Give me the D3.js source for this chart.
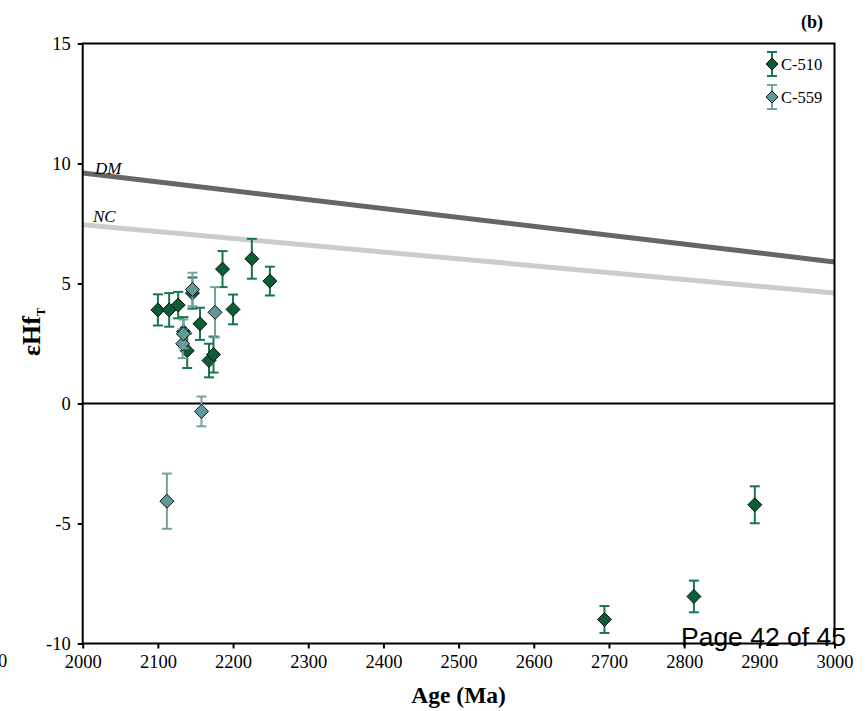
<!DOCTYPE html>
<html>
<head>
<meta charset="utf-8">
<script src="https://cdn.jsdelivr.net/npm/d3@7"></script>
<style>
  html, body { margin: 0; padding: 0; background: #fff; }
  svg { display: block; }
</style>
</head>
<body>
<svg id="chart" width="868" height="711"></svg>
<script>
// ---- data ----
const xTicks = [2000, 2100, 2200, 2300, 2400, 2500, 2600, 2700, 2800, 2900, 3000];
const yTicks = [-10, -5, 0, 5, 10, 15];

// C-510: age, eHf, error
const c510Age = [2100, 2115, 2127, 2146, 2156, 2186, 2225, 2249, 2200, 2134, 2139, 2168, 2174, 2694, 2813, 2894];
const c510Hf  = [3.9, 3.9, 4.1, 4.6, 3.32, 5.6, 6.03, 5.1, 3.92, 3.0, 2.2, 1.79, 2.04, -9.0, -8.04, -4.22];
const c510Err = [0.65, 0.7, 0.55, 0.65, 0.67, 0.75, 0.83, 0.6, 0.62, 0.6, 0.72, 0.7, 0.75, 0.56, 0.66, 0.77];

// C-559
const c559Age = [2146, 2133, 2134, 2176, 2158, 2112];
const c559Hf  = [4.75, 2.49, 2.9, 3.8, -0.33, -4.07];
const c559Err = [0.7, 0.6, 0.6, 1.05, 0.62, 1.15];

// reference lines: [age, eHf]
const dmLine = [[2000, 9.6], [3000, 5.9]];
const ncLine = [[2000, 7.45], [3000, 4.6]];

const seriesNames = ["C-510", "C-559"];
const seriesFill = ["#0b5e33", "#5f9999"];
const seriesBar  = ["#17774a", "#6fa3a3"];

const SERIF = '"Liberation Serif", "Times New Roman", serif';
const SANS = '"Liberation Sans", Arial, sans-serif';

// ---- layout ----
const svg = d3.select("#chart");
const L = 82.7, R = 834.5, T = 43.5, B = 643.5;
const x = d3.scaleLinear().domain([2000, 3000]).range([L, R]);
const y = d3.scaleLinear().domain([-10, 15]).range([B, T]);

// reference lines
const line = d3.line().x(d => x(d[0])).y(d => y(d[1]));
svg.append("clipPath").attr("id", "pc").append("rect")
  .attr("x", L).attr("y", T).attr("width", R - L).attr("height", B - T);
const g = svg.append("g").attr("clip-path", "url(#pc)");
g.append("path").datum(dmLine).attr("d", line).attr("fill", "none")
  .attr("stroke", "#666666").attr("stroke-width", 5);
g.append("path").datum(ncLine).attr("d", line).attr("fill", "none")
  .attr("stroke", "#cccccc").attr("stroke-width", 5);

svg.append("text").attr("x", 95).attr("y", 174)
  .style("font-family", SERIF).style("font-style", "italic").style("font-size", "17px").text("DM");
svg.append("text").attr("x", 93).attr("y", 222)
  .style("font-family", SERIF).style("font-style", "italic").style("font-size", "17px").text("NC");

// zero line
svg.append("line").attr("x1", L).attr("x2", R).attr("y1", y(0)).attr("y2", y(0))
  .attr("stroke", "#000").attr("stroke-width", 2);

// axes
const fmt = d => String(d);
const xAxis = d3.axisBottom(x).tickValues(xTicks).tickSize(5).tickPadding(6).tickFormat(fmt);
const yAxis = d3.axisLeft(y).tickValues(yTicks).tickSize(5).tickPadding(7).tickFormat(fmt);
const gx = svg.append("g").attr("transform", `translate(0,${B})`).call(xAxis);
const gy = svg.append("g").attr("transform", `translate(${L},0)`).call(yAxis);
[gx, gy].forEach(a => {
  a.attr("font-family", null);
  a.select(".domain").remove();
  a.selectAll(".tick line").attr("stroke", "#000").attr("stroke-width", 2);
  a.selectAll(".tick text").style("font-family", SERIF)
    .style("font-size", "18.5px").attr("fill", "#000");
});

// frame
svg.append("rect").attr("x", L).attr("y", T).attr("width", R - L).attr("height", B - T)
  .attr("fill", "none").attr("stroke", "#000").attr("stroke-width", 2);

// points
function drawPoint(sel, px, py, errPx, si) {
  const cw = 5;
  sel.append("line").attr("x1", px).attr("x2", px).attr("y1", py - errPx).attr("y2", py + errPx)
    .attr("stroke", seriesBar[si]).attr("stroke-width", 2);
  [py - errPx, py + errPx].forEach(yy => sel.append("line")
    .attr("x1", px - cw).attr("x2", px + cw).attr("y1", yy).attr("y2", yy)
    .attr("stroke", seriesBar[si]).attr("stroke-width", 2));
  const s = 7;
  sel.append("path").attr("d", `M${px},${py - s}L${px + s},${py}L${px},${py + s}L${px - s},${py}Z`)
    .attr("fill", seriesFill[si]).attr("stroke", "#111").attr("stroke-width", 1);
}
const pts = svg.append("g");
c510Age.forEach((a, i) => drawPoint(pts, x(a), y(c510Hf[i]), y(0) - y(c510Err[i]), 0));
c559Age.forEach((a, i) => drawPoint(pts, x(a), y(c559Hf[i]), y(0) - y(c559Err[i]), 1));

// legend
seriesNames.forEach((n, i) => {
  const ly = 64 + i * 33;
  const lg = svg.append("g");
  const px = 772;
  lg.append("line").attr("x1", px).attr("x2", px).attr("y1", ly - 12).attr("y2", ly + 12)
    .attr("stroke", seriesBar[i]).attr("stroke-width", 2);
  [ly - 12, ly + 12].forEach(yy => lg.append("line").attr("x1", px - 5).attr("x2", px + 5)
    .attr("y1", yy).attr("y2", yy).attr("stroke", seriesBar[i]).attr("stroke-width", 2));
  lg.append("path").attr("d", `M${px},${ly - 6}L${px + 6},${ly}L${px},${ly + 6}L${px - 6},${ly}Z`)
    .attr("fill", seriesFill[i]).attr("stroke", "#111").attr("stroke-width", 1);
  lg.append("text").attr("x", 781).attr("y", ly + 6)
    .style("font-family", SERIF).style("font-size", "16.5px").text(n);
});

// titles
svg.append("text").attr("x", 812).attr("y", 28).attr("text-anchor", "middle")
  .style("font-family", SERIF).style("font-weight", "bold").style("font-size", "18px").text("(b)");
svg.append("text").attr("x", (L + R) / 2).attr("y", 703).attr("text-anchor", "middle")
  .style("font-family", SERIF).style("font-weight", "bold").style("font-size", "23.5px").text("Age (Ma)");
const yl = svg.append("text").attr("transform", `translate(40,332) rotate(-90)`)
  .attr("text-anchor", "middle")
  .style("font-family", SERIF).style("font-weight", "bold").style("font-size", "26px");
yl.append("tspan").text("εHf");
yl.append("tspan").style("font-size", "12px").attr("dy", 5).text("T");

// stray fragments from page
svg.append("text").attr("x", -2).attr("y", 667)
  .style("font-family", SERIF).style("font-size", "18.5px").text("0");
svg.append("text").attr("x", 846).attr("y", 646).attr("text-anchor", "end")
  .style("font-family", SANS).style("font-size", "26.5px").text("Page 42 of 45");
</script>
</body>
</html>
